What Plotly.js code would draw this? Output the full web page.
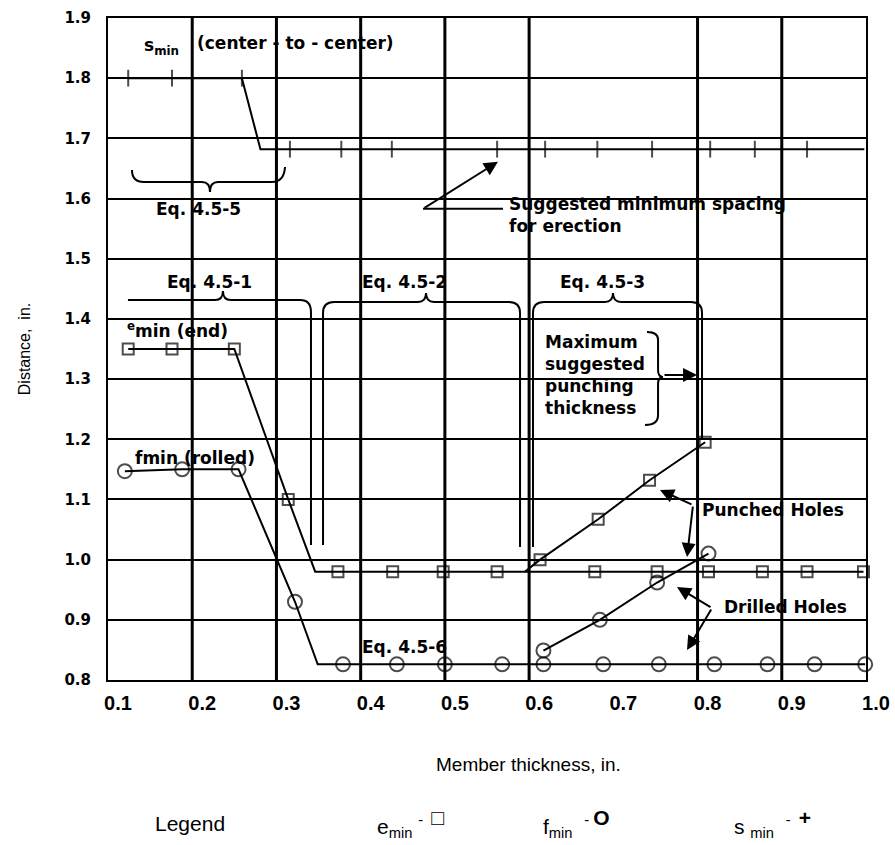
<!DOCTYPE html>
<html>
<head>
<meta charset="utf-8">
<script src="https://cdn.plot.ly/plotly-3.0.1.min.js"></script>
<style>html,body{margin:0;padding:0;background:#fff;}#chart{width:895px;height:845px;}</style>
</head>
<body>
<div id="chart"></div>
<script>
// ---- data ----
const xTickVals = [0.1, 0.2, 0.3, 0.4, 0.5, 0.6, 0.7, 0.8, 0.9, 1.0];
const yTickVals = [0.8, 0.9, 1.0, 1.1, 1.2, 1.3, 1.4, 1.5, 1.6, 1.7, 1.8, 1.9];
const gridX = [0.2, 0.3, 0.4, 0.5, 0.6, 0.8, 0.9];

// e_min (end distance), squares; 0 = bend without marker
const eminX = [0.124, 0.176, 0.250, 0.314, 0.346, 0.373, 0.438, 0.498, 0.562, 0.678, 0.752, 0.813, 0.877, 0.930, 0.997];
const eminY = [1.35, 1.35, 1.35, 1.10, 0.98, 0.98, 0.98, 0.98, 0.98, 0.98, 0.98, 0.98, 0.98, 0.98, 0.98];
const eminM = [1, 1, 1, 1, 0, 1, 1, 1, 1, 1, 1, 1, 1, 1, 1];

// e_min, punched holes branch
const ePunchX = [0.595, 0.613, 0.682, 0.743, 0.809];
const ePunchY = [0.98, 1.00, 1.067, 1.132, 1.195];
const ePunchM = [0, 1, 1, 1, 1];

// f_min (rolled edge), circles
const fminX = [0.120, 0.188, 0.255, 0.322, 0.349, 0.379, 0.443, 0.500, 0.568, 0.617, 0.688, 0.754, 0.820, 0.883, 0.939, 0.999];
const fminY = [1.147, 1.15, 1.15, 0.93, 0.826, 0.826, 0.826, 0.826, 0.826, 0.826, 0.826, 0.826, 0.826, 0.826, 0.826, 0.826];
const fminM = [1, 1, 1, 1, 0, 1, 1, 1, 1, 1, 1, 1, 1, 1, 1, 1];

// f_min, drilled holes branch
const fDrillX = [0.617, 0.684, 0.752, 0.813];
const fDrillY = [0.849, 0.90, 0.962, 1.01];

// s_min (center-to-center), plus marks
const sminX = [0.124, 0.176, 0.259, 0.281, 0.316, 0.377, 0.437, 0.562, 0.619, 0.681, 0.746, 0.815, 0.868, 0.930, 0.998];
const sminY = [1.80, 1.80, 1.80, 1.682, 1.682, 1.682, 1.682, 1.682, 1.682, 1.682, 1.682, 1.682, 1.682, 1.682, 1.682];
const sminM = [1, 1, 1, 0, 1, 1, 1, 1, 1, 1, 1, 1, 1, 1, 0];

// ---- styling ----
const BOLD = {family: 'DejaVu Sans, Liberation Sans, Arial', size: 17, color: 'black', weight: 'bold'};
const REG = {family: 'Liberation Sans Narrow, Liberation Sans, Arial', size: 19, color: 'black'};
const LEG = {family: 'Liberation Sans Narrow, Liberation Sans, Arial', size: 21, color: 'black'};

function series(x, y, m, symbol, size) {
  return {
    type: 'scatter', mode: 'lines+markers', x: x, y: y, cliponaxis: false,
    line: {color: 'black', width: 2},
    marker: {symbol: symbol, size: m.map(v => v * size), color: 'black', line: {color: 'black', width: 2}},
    hoverinfo: 'x+y', showlegend: false
  };
}

const traces = [
  series(eminX, eminY, eminM, 'square-open', 11),
  series(ePunchX, ePunchY, ePunchM, 'square-open', 11),
  series(fminX, fminY, fminM, 'circle-open', 14),
  series(fDrillX, fDrillY, fDrillX.map(() => 1), 'circle-open', 14),
  series(sminX, sminY, sminM, 'line-ns-open', 12)
];

function path(cmds) { return cmds.join(' '); }
const shapes = [];
gridX.forEach(v => shapes.push({type: 'line', xref: 'x', yref: 'paper', x0: v, x1: v, y0: 0, y1: 1, line: {color: 'black', width: 3}, layer: 'below'}));
const braceLine = {color: 'black', width: 2};
// Eq 4.5-5 brace
shapes.push({type: 'path', xref: 'x', yref: 'y', line: braceLine,
  path: path(['M0.1285,1.6474', 'Q0.1285,1.6275 0.1427,1.6275', 'L0.2116,1.6275', 'Q0.2211,1.6275 0.2211,1.6109', 'Q0.2211,1.6275 0.2306,1.6275', 'L0.2947,1.6275', 'Q0.3090,1.6275 0.3102,1.6524'])});
// Eq 4.5-1 brace
shapes.push({type: 'path', xref: 'x', yref: 'y', line: braceLine,
  path: path(['M0.1237,1.4314', 'L0.2270,1.4314', 'Q0.2365,1.4314 0.2365,1.4464', 'Q0.2365,1.4314 0.2460,1.4314', 'L0.3280,1.4314', 'Q0.3410,1.4314 0.3410,1.4115', 'L0.3410,1.0243'])});
// Eq 4.5-2 brace
shapes.push({type: 'path', xref: 'x', yref: 'y', line: braceLine,
  path: path(['M0.3553,1.0243', 'L0.3553,1.4098', 'Q0.3553,1.4281 0.3683,1.4281', 'L0.4681,1.4281', 'Q0.4776,1.4281 0.4776,1.4430', 'Q0.4776,1.4281 0.4871,1.4281', 'L0.5761,1.4281', 'Q0.5892,1.4281 0.5892,1.4098', 'L0.5892,1.0210'])});
// Eq 4.5-3 brace
shapes.push({type: 'path', xref: 'x', yref: 'y', line: braceLine,
  path: path(['M0.6046,1.0210', 'L0.6046,1.4098', 'Q0.6046,1.4281 0.6177,1.4281', 'L0.6901,1.4281', 'Q0.6996,1.4281 0.6996,1.4430', 'Q0.6996,1.4281 0.7091,1.4281', 'L0.7922,1.4281', 'Q0.8053,1.4281 0.8053,1.4098', 'L0.8053,1.2012'])});
// "}" next to Maximum suggested punching thickness
shapes.push({type: 'path', xref: 'x', yref: 'y', line: braceLine,
  path: path(['M0.7400,1.3782', 'Q0.7531,1.3782 0.7531,1.3650', 'L0.7531,1.3150', 'Q0.7531,1.3035 0.7590,1.3035', 'Q0.7531,1.3035 0.7531,1.2918', 'L0.7531,1.2403', 'Q0.7531,1.2237 0.7376,1.2237'])});
// leader for "Suggested minimum spacing"
shapes.push({type: 'line', xref: 'x', yref: 'y', x0: 0.474, y0: 1.583, x1: 0.569, y1: 1.583, line: braceLine});

function txt(x, y, text, opts) {
  return Object.assign({xref: 'x', yref: 'y', x: x, y: y, text: text, showarrow: false, font: BOLD, xanchor: 'left', yanchor: 'middle', align: 'left'}, opts || {});
}
function arrow(x, y, ax, ay) {
  return {xref: 'x', yref: 'y', axref: 'x', ayref: 'y', x: x, y: y, ax: ax, ay: ay, text: '', showarrow: true,
    arrowhead: 2, arrowsize: 1.4, arrowwidth: 2, arrowcolor: 'black', standoff: 0, startstandoff: 0};
}
function paperTxt(px, py, text, font, anchor) {
  return {xref: 'paper', yref: 'paper', x: (px - 108) / 758, y: (680 - py) / 662, text: text, showarrow: false,
    font: font, xanchor: anchor || 'center', yanchor: 'middle'};
}
const SYM = '<span style="font-size:21px;font-weight:bold">';

const annotations = [
  txt(0.1404, 1.852, 's<sub>min</sub>'),
  txt(0.2033, 1.8585, '(center - to - center)'),
  txt(0.207, 1.583, 'Eq. 4.5-5', {xanchor: 'center'}),
  txt(0.574, 1.5727, 'Suggested minimum spacing<br>for erection'),
  arrow(0.563, 1.661, 0.474, 1.583),
  txt(0.2211, 1.4613, 'Eq. 4.5-1', {xanchor: 'center'}),
  txt(0.4526, 1.4613, 'Eq. 4.5-2', {xanchor: 'center'}),
  txt(0.6866, 1.4613, 'Eq. 4.5-3', {xanchor: 'center'}),
  txt(0.1202, 1.382, '<sup>e</sup>min (end)'),
  txt(0.1297, 1.169, 'fmin (rolled)'),
  txt(0.6165, 1.3068, 'Maximum<br>suggested<br>punching<br>thickness'),
  arrow(0.7994, 1.3068, 0.7590, 1.3068),
  txt(0.803, 1.0825, 'Punched Holes'),
  arrow(0.7554, 1.1157, 0.7946, 1.0907),
  arrow(0.7875, 1.0044, 0.7946, 1.0907),
  txt(0.829, 0.9213, 'Drilled Holes'),
  arrow(0.7756, 0.9545, 0.8172, 0.9196),
  arrow(0.7875, 0.8498, 0.8172, 0.9196),
  txt(0.4526, 0.8548, 'Eq. 4.5-6', {xanchor: 'center'}),
  paperTxt(528, 764, 'Member thickness, in.', REG),
  paperTxt(190, 823, 'Legend', LEG),
  paperTxt(410, 823, 'e<sub>min</sub> <sup>-  ' + SYM + '□</span></sup>', LEG),
  paperTxt(576, 823, 'f<sub>min</sub>  <sup>- ' + SYM + 'O</span></sup>', LEG),
  paperTxt(772, 823, 's <sub>min</sub>  <sup>-  ' + SYM + '+</span></sup>', LEG)
];

const layout = {
  width: 895, height: 845,
  margin: {l: 108, r: 29, t: 18, b: 165},
  paper_bgcolor: 'white', plot_bgcolor: 'white',
  showlegend: false,
  xaxis: {
    range: [0.1, 1.0], tickvals: xTickVals, tickformat: '.1f',
    showgrid: false, zeroline: false, ticks: '',
    showline: true, mirror: true, linecolor: 'black', linewidth: 2,
    tickfont: {family: 'Liberation Sans, Arial', size: 20, color: 'black', weight: 'bold'},
    ticklabelshift: 10, ticklabelstandoff: 4
  },
  yaxis: {
    range: [0.8, 1.9], tickvals: yTickVals, tickformat: '.1f',
    showgrid: true, gridcolor: 'black', gridwidth: 2, zeroline: false, ticks: '',
    showline: true, mirror: true, linecolor: 'black', linewidth: 2,
    tickfont: {family: 'DejaVu Sans, Arial', size: 15, color: 'black', weight: 'bold'},
    ticklabelstandoff: 12,
    title: {text: 'Distance,  in.', font: {family: 'Liberation Sans, Arial', size: 16, color: 'black'}, standoff: 30}
  },
  shapes: shapes,
  annotations: annotations
};

Plotly.newPlot('chart', traces, layout, {displayModeBar: false, staticPlot: true});
</script>
</body>
</html>
